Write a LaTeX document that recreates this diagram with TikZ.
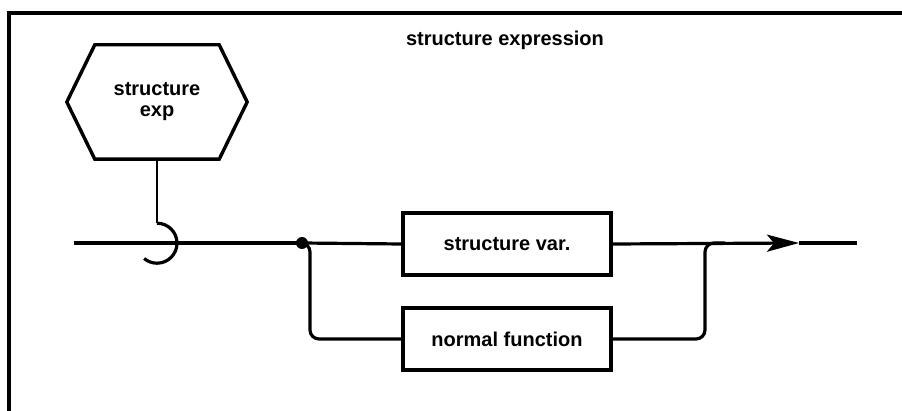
\documentclass[tikz,border=0pt]{standalone}
\usepackage{fontspec}
\setmainfont{Liberation Sans}
\usetikzlibrary{arrows.meta,calc}
\begin{document}
\begin{tikzpicture}[x=1pt,y=1pt,
  lbl/.style={font=\fontsize{20}{21}\selectfont\bfseries},
  boxnode/.style={draw,line width=3.4pt,minimum width=208pt,minimum height=62pt,inner sep=0pt,lbl},
  conn/.style={line width=3.2pt},
  frameline/.style={line width=3.8pt}]
\useasboundingbox (0,0) rectangle (902,-411);
% frame
\coordinate (ftl) at (9,-13);
\coordinate (ftr) at (902,-13);
\coordinate (fbl) at (9,-411);
\draw[frameline] (fbl) -- (ftl) -- (ftr);
% title
\node[lbl] (title) at (505,-40) {structure expression};
% hexagon
\node[lbl,align=center,minimum width=180pt,minimum height=114pt,inner sep=0pt] (hex) at (157,-102) {structure\\exp};
\draw[line width=3.4pt,line join=miter]
  (hex.west) -- ($(hex.north west)+(28,0)$) -- ($(hex.north east)+(-28,0)$)
  -- (hex.east) -- ($(hex.south east)+(-28,0)$) -- ($(hex.south west)+(28,0)$) -- cycle;
% stem and arc
\coordinate (arctop) at ($(hex.south)+(0,-64)$);
\draw[line width=2.6pt] (hex.south) -- (arctop);
\draw[line width=3.2pt] (arctop) arc[start angle=90,end angle=-130,radius=20pt];
% boxes
\node[boxnode] (sv) at (507,-244) {structure var.};
\node[boxnode] (nf) at (507,-339) {normal function};
% main line
\coordinate (start) at (74,-243);
\node[circle,fill,inner sep=0pt,minimum size=12pt] (dot) at (302,-243) {};
\coordinate (tip) at (799,-243);
\coordinate (end) at (857,-243);
\coordinate (bl) at (310,-339);
\coordinate (jR) at (705,-243);
\coordinate (jR2) at (725,-243);
\draw[conn] (start) -- (dot.center);
\draw[conn] (dot.center) -- (sv.west);
\draw[conn,-{Stealth[length=32pt,width=17pt,inset=7pt]}] (sv.east) -- (tip);
\draw[conn] (tip) -- (end);
\draw[conn,rounded corners=9pt] (dot.center) -| (bl) -- (nf.west);
\draw[conn,rounded corners=9pt] (nf.east) -| (jR) -- (jR2);
\end{tikzpicture}
\end{document}
